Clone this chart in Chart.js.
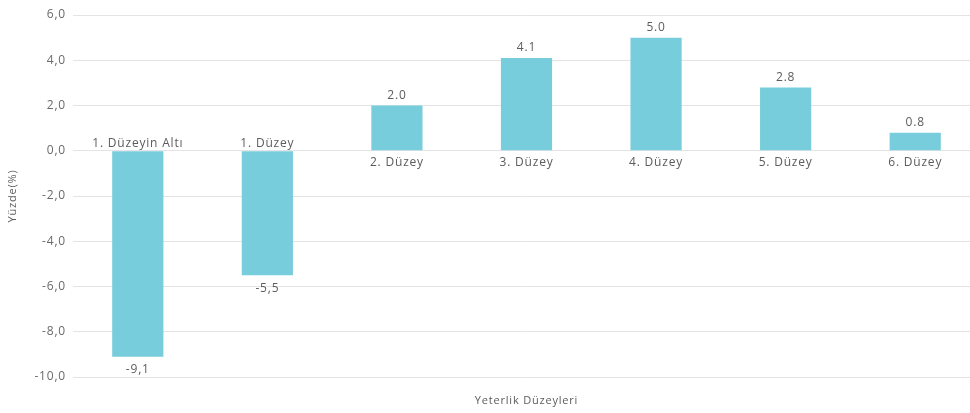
<!DOCTYPE html>
<html lang="tr">
<head>
<meta charset="utf-8">
<script src="https://cdn.jsdelivr.net/npm/chart.js@4.4.1/dist/chart.umd.min.js"></script>
<style>
  html, body { margin: 0; padding: 0; background: #fff; overflow: hidden; }
  #wrap { width: 980px; height: 413px; position: relative; }
</style>
</head>
<body>
<div id="wrap"><canvas id="levels-chart"></canvas></div>
<script>
// Yeterlik düzeylerine göre yüzde değişim
const levels = ['1. Düzeyin Altı', '1. Düzey', '2. Düzey', '3. Düzey', '4. Düzey', '5. Düzey', '6. Düzey'];
const changes = [-9.1, -5.5, 2.0, 4.1, 5.0, 2.8, 0.8];
const yTicks = [6, 4, 2, 0, -2, -4, -6, -8, -10];

const barColor = '#77cddb';
const textColor = '#5c5c5c';
const fontFamily = '"Open Sans", "Noto Sans", sans-serif';

// positive values use a dot, negatives and ticks a comma (as printed)
function formatValue(v) {
  const s = v.toFixed(1);
  return v < 0 ? s.replace('.', ',') : s;
}

// wide, airy lettering for every text on the canvas
const spacing = {
  id: 'spacing',
  beforeDraw(chart) { chart.ctx.letterSpacing = '0.8px'; }
};

// value labels at bar ends, category names along the zero line
const barLabels = {
  id: 'barLabels',
  afterDatasetsDraw(chart) {
    const ctx = chart.ctx;
    const meta = chart.getDatasetMeta(0);
    ctx.save();
    ctx.fillStyle = textColor;
    ctx.textAlign = 'center';
    ctx.textBaseline = 'middle';
    ctx.font = '12px ' + fontFamily;
    meta.data.forEach((bar, i) => {
      const v = changes[i];
      if (v >= 0) {
        ctx.fillText(formatValue(v), bar.x, bar.y - 10);
        ctx.fillText(levels[i], bar.x, bar.base + 12);
      } else {
        ctx.fillText(formatValue(v), bar.x, bar.y + 13);
        ctx.fillText(levels[i], bar.x, bar.base - 8);
      }
    });
    ctx.restore();
  }
};

document.addEventListener("DOMContentLoaded", function () {
  const chart = new Chart(document.querySelector('#levels-chart'), {
    type: 'bar',
    data: {
      labels: levels,
      datasets: [{
        data: changes,
        backgroundColor: barColor,
        barPercentage: 0.395,
        categoryPercentage: 1
      }]
    },
    options: {
      responsive: true,
      maintainAspectRatio: false,
      animation: false,
      layout: { padding: { top: 15, right: 0, left: 0, bottom: 0 } },
      plugins: {
        legend: { display: false },
        tooltip: { enabled: false }
      },
      scales: {
        x: {
          grid: { display: false },
          border: { display: false },
          ticks: { display: false },
          title: {
            display: true,
            text: 'Yeterlik Düzeyleri',
            color: textColor,
            font: { family: fontFamily, size: 11 },
            padding: { top: 0, bottom: 6 }
          },
          afterFit(scale) { scale.height = 36; }
        },
        y: {
          min: -10,
          max: 6,
          afterBuildTicks(scale) { scale.ticks = yTicks.map(v => ({ value: v })); },
          grid: { color: '#e4e4e4', drawTicks: false },
          border: { display: false },
          ticks: {
            color: '#6a6a6a',
            padding: 7,
            font: { family: fontFamily, size: 12 },
            callback: v => v.toFixed(1).replace('.', ',')
          },
          title: {
            display: true,
            text: 'Yüzde(%)',
            color: textColor,
            font: { family: fontFamily, size: 11 },
            padding: { top: 6, bottom: 0 }
          },
          afterFit(scale) { scale.width = 73; }
        }
      }
    },
    plugins: [spacing, barLabels]
  });
});
</script>
</body>
</html>
